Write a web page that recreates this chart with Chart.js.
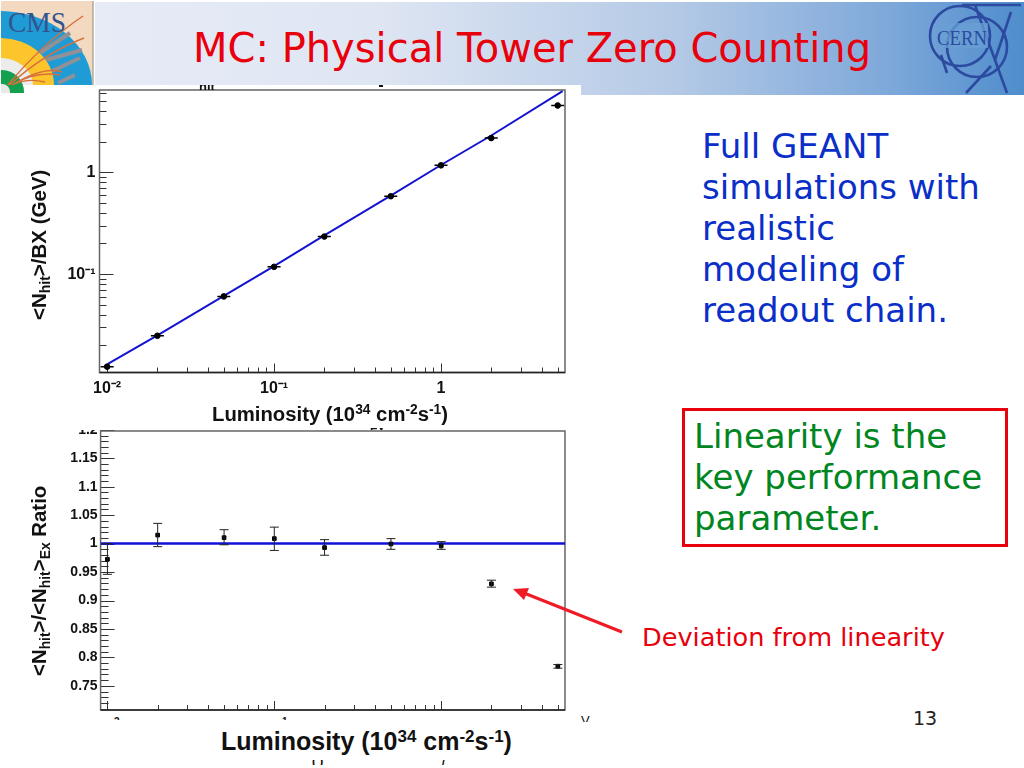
<!DOCTYPE html>
<html><head><meta charset="utf-8">
<script src="https://cdn.jsdelivr.net/npm/chart.js@4"></script>
<style>
html,body{margin:0;padding:0;background:#fff;width:1024px;height:768px;overflow:hidden}
.abs{position:absolute;white-space:nowrap}
#band{position:absolute;left:95px;top:2px;width:929px;height:93px;background:linear-gradient(90deg,#e6ebf6 0%,#dfe6f3 30%,#b5cae6 62%,#7fa9da 85%,#4f8dcc 100%)}
#white{position:absolute;left:95px;top:85px;width:486px;height:12px;background:#fff}
canvas{position:absolute}
.t{font-family:"DejaVu Sans";}
.rb{font-family:"Liberation Sans";font-weight:bold;color:#111}
.rb sub{font-size:.68em;vertical-align:-.28em;line-height:0}
.rb sup{font-size:.68em;vertical-align:.48em;line-height:0}
.rot{transform-origin:0 0;transform:rotate(-90deg)}
.frag{position:absolute;overflow:hidden;font-family:"Liberation Sans";font-weight:bold;color:#111}
</style></head><body>
<div id="band"></div>
<svg class="abs" style="left:0;top:0" width="95" height="95" viewBox="0 0 95 95">
<clipPath id="c1"><rect x="1" y="1" width="92" height="84"/></clipPath>
<clipPath id="c2"><rect x="1" y="1" width="24" height="92"/></clipPath>
<rect x="1" y="1" width="92" height="84" fill="#f3d9c0"/>
<g clip-path="url(#c1)">
<ellipse cx="0" cy="85" rx="92" ry="74" fill="#1f9bd6"/>
<ellipse cx="0" cy="85" rx="54" ry="47" fill="#fdc52c"/>
<ellipse cx="0" cy="85" rx="33" ry="27" fill="#ececec"/>
<g stroke="#8f9196" stroke-width="4" fill="none">
<path d="M40 53L70 33M46 60L82 50M52 71L80 58M58 83L75 75"/></g>
</g>
<g clip-path="url(#c2)"><circle cx="2" cy="92" r="22" fill="#13a04f"/><circle cx="2" cy="92" r="8" fill="#e9e9e9"/></g>
<g clip-path="url(#c1)"><g stroke="#d8703c" stroke-width="1.4" fill="none">
<path d="M2 92Q40 45 83 16M2 92Q40 55 84 38M2 92Q40 65 62 72M2 92Q30 70 60 75M2 92Q20 76 45 82"/></g>
<text x="8" y="32" font-family="Liberation Serif" font-size="29" fill="#33548f" textLength="58" lengthAdjust="spacingAndGlyphs">CMS</text>
</g>
<line x1="93" y1="1" x2="93" y2="85" stroke="#8a8a80" stroke-width="1"/>
</svg>
<svg class="abs" style="left:920px;top:0" width="104" height="95" viewBox="0 0 104 95">
<g fill="none" stroke="#2b4aa0" stroke-width="2.6">
<circle cx="40" cy="36" r="30"/>
<circle cx="57" cy="47" r="30"/>
<path d="M42 5H101"/><path d="M55 5L87 93M91 12L75 60M71 66L46 93M21 55L27 73"/>
</g>
<rect x="16" y="23" width="52" height="25" fill="#6a9fd4" opacity=".75"/>
<text x="17" y="45" font-family="Liberation Serif" font-size="21" fill="#2b4aa0" textLength="50" lengthAdjust="spacingAndGlyphs">CERN</text>
</svg>
<div class="abs t" id="title" style="left:193px;top:24px;font-size:40px;line-height:48px;color:#e8000c">MC: Physical Tower Zero Counting</div>

<div id="white"></div>
<canvas id="top" style="left:50px;top:85px;width:531px;height:345px"></canvas>
<canvas id="bot" style="left:50px;top:426px;width:531px;height:290px;clip-path:inset(4px 0 0 0)"></canvas>

<div class="frag" style="left:199px;top:85px;width:20px;height:5px;font-size:13px;line-height:3px">hit</div>
<div class="frag" style="left:379px;top:85px;height:2px;width:4px;background:#111"></div>
<div class="frag" style="left:370px;top:428px;width:16px;height:2px;font-size:12px;line-height:2px">Ex</div>
<div class="frag" style="left:114px;top:716px;width:8px;height:4px;font-size:10px;line-height:12px">2</div>
<div class="frag" style="left:282px;top:716px;width:8px;height:4px;font-size:10px;line-height:12px">1</div>
<div class="frag" style="left:581px;top:714px;width:12px;height:8px;font-size:13px;line-height:14px;font-weight:normal">V</div>
<div class="frag" style="left:312px;top:760px;width:20px;height:5px;font-size:12px;line-height:2px">( )</div>
<div class="frag" style="left:442px;top:760px;width:8px;height:5px;font-size:12px;line-height:2px">/</div>

<div class="abs rb rot" style="left:28px;top:320px;font-size:20.5px;line-height:22px">&lt;N<sub>hit</sub>&gt;/BX (GeV)</div>
<div class="abs rb" style="left:212px;top:402px;font-size:20.3px;line-height:24px">Luminosity (10<sup>34</sup> cm<sup>-2</sup>s<sup>-1</sup>)</div>
<div class="abs rb rot" style="left:27px;top:676px;font-size:20.4px;line-height:24px">&lt;N<sub>hit</sub>&gt;/&lt;N<sub>hit</sub>&gt;<sub>Ex</sub> Ratio</div>
<div class="abs rb" style="left:221px;top:726px;font-size:25px;line-height:30px">Luminosity (10<sup>34</sup> cm<sup>-2</sup>s<sup>-1</sup>)</div>

<div class="abs t" style="left:702px;top:126px;font-size:34px;line-height:41px;color:#0a2fc8">Full GEANT<br>simulations with<br>realistic<br>modeling of<br>readout chain.</div>
<div class="abs" style="left:682px;top:408px;width:320px;height:133px;border:3px solid #e8000c"></div>
<div class="abs t" style="left:694px;top:416px;font-size:34px;line-height:41px;color:#00861e">Linearity is the<br>key performance<br>parameter.</div>
<div class="abs t" style="left:642px;top:623px;font-size:25.6px;line-height:28px;color:#e8000c">Deviation from linearity</div>
<div class="abs t" style="left:913px;top:706px;font-size:19px;line-height:24px;color:#222">13</div>
<svg class="abs" style="left:500px;top:575px" width="140" height="70">
<line x1="122" y1="57" x2="24" y2="18" stroke="#ee1c25" stroke-width="3"/>
<polygon points="13,14 29,13 24,25" fill="#ee1c25"/>
</svg>

<script>
// ---- top panel ----
const lumi = [0.01,0.02,0.05,0.1,0.2,0.5,1,2,5];
const nhit = [0.01233,0.0248,0.0604,0.118,0.234,0.582,1.171,2.17,4.54];
const nhitHi = [0.0129,0.0257,0.0619,0.121,0.240,0.597,1.20,2.22,4.64];
const nhitLo = [0.0117,0.0240,0.0589,0.115,0.228,0.567,1.14,2.12,4.44];
const fitX = [0.0101,0.02,0.05,0.1,0.2,0.5,1,2,5.35];
const fitY = [0.0131,0.0250,0.0612,0.120,0.240,0.59,1.18,2.3,6.27];
const xMajor = [0.01,0.1,1];
const xMinor = [0.02,0.03,0.04,0.05,0.06,0.07,0.08,0.09,0.2,0.3,0.4,0.5,0.6,0.7,0.8,0.9,2,3,4,5];
const yMajorTop = [0.1,1];
const yMinorTop = [0.02,0.03,0.04,0.05,0.06,0.07,0.08,0.09,0.2,0.3,0.4,0.5,0.6,0.7,0.8,0.9,2,3,4,5,6];
// ---- bottom panel ----
const ratio = [0.9725,1.015,1.0105,1.0088,0.993,0.9994,0.996,0.9293,0.7845];
const ratioHi = [1.0,1.0356,1.0245,1.029,1.007,1.0088,1.0035,0.9357,0.7874];
const ratioLo = [0.946,0.9947,0.998,0.988,0.9796,0.990,0.990,0.9235,0.781];
const unityX = [0.0091,5.52];
const unityY = [1,1];
const yMajorBot = [0.75,0.8,0.85,0.9,0.95,1,1.05,1.1,1.15,1.2];
const yMinorBot = [0.71,0.72,0.73,0.74,0.76,0.77,0.78,0.79,0.81,0.82,0.83,0.84,0.86,0.87,0.88,0.89,0.91,0.92,0.93,0.94,0.96,0.97,0.98,0.99,1.01,1.02,1.03,1.04,1.06,1.07,1.08,1.09,1.11,1.12,1.13,1.14,1.16,1.17,1.18,1.19];

const FONT = '"Liberation Sans"';
const zip = (a,b)=>a.map((v,i)=>({x:v,y:b[i]}));
const xLabel = v => v===1 ? '1' : '10'+(v===0.1?'⁻¹':'⁻²');

function rootPlugin(o){return {id:'root',
 beforeDatasetsDraw(c){
  const g=c.ctx,a=c.chartArea,x=c.scales.x,y=c.scales.y;
  g.save();g.strokeStyle='#333';g.lineWidth=1;
  const tx=(v,l)=>{const p=Math.round(x.getPixelForValue(v))+.5;g.beginPath();g.moveTo(p,a.bottom);g.lineTo(p,a.bottom-l);g.stroke();};
  const ty=(v,l)=>{const p=Math.round(y.getPixelForValue(v))+.5;g.beginPath();g.moveTo(a.left,p);g.lineTo(a.left+l,p);g.stroke();};
  xMajor.forEach(v=>tx(v,9));xMinor.forEach(v=>tx(v,5));
  o.yMajor.forEach(v=>ty(v,14));o.yMinor.forEach(v=>ty(v,o.minorLen));
  g.strokeStyle=o.frame;g.lineWidth=1.5;
  g.strokeRect(a.left,a.top,a.right-a.left,a.bottom-a.top);
  g.strokeStyle='#222';g.beginPath();g.moveTo(a.left,a.bottom);g.lineTo(a.right,a.bottom);g.stroke();
  g.restore();
 },
 afterDatasetsDraw(c){
  const g=c.ctx,x=c.scales.x,y=c.scales.y;
  g.save();g.strokeStyle=o.errColor;g.lineWidth=o.errWidth;
  lumi.forEach((v,i)=>{
   const p=x.getPixelForValue(v),hi=y.getPixelForValue(o.hi[i]),lo=y.getPixelForValue(o.lo[i]);
   g.beginPath();g.moveTo(p,hi);g.lineTo(p,lo);
   if(o.cap){g.moveTo(p-o.cap,hi);g.lineTo(p+o.cap,hi);g.moveTo(p-o.cap,lo);g.lineTo(p+o.cap,lo);}
   if(o.xbar){const q=y.getPixelForValue(o.val[i]);g.moveTo(p-o.xbar,q);g.lineTo(p+o.xbar,q);}
   g.stroke();
  });
  g.restore();
 }};}

const common = (pad)=>({responsive:false,animation:false,devicePixelRatio:1,
  layout:{padding:pad},
  plugins:{legend:{display:false},title:{display:false},tooltip:{enabled:false}}});
const fitY_ = w => s=>{s.width=w;s.paddingTop=0;s.paddingBottom=0;};
const fitX_ = h => s=>{s.height=h;s.paddingLeft=0;s.paddingRight=0;};

function mk(id,w,h){const el=document.getElementById(id);el.width=w;el.height=h;return el;}

new Chart(mk('top',531,345),{
 type:'scatter',
 data:{datasets:[
  {type:'line',data:zip(fitX,fitY),borderColor:'#1414d0',borderWidth:2,pointRadius:0,tension:0,order:2},
  {data:zip(lumi,nhit),backgroundColor:'#000',borderColor:'#000',pointRadius:2.8,showLine:false,order:1}
 ]},
 options:{...common({left:0,right:16,top:4.5,bottom:0}),
  scales:{
   x:{type:'logarithmic',min:0.0090,max:5.53,grid:{display:false,drawTicks:false},border:{display:false},
      afterBuildTicks:s=>{s.ticks=xMajor.map(v=>({value:v,major:true}))},
      afterFit:fitX_(57.5),
      ticks:{autoSkip:false,maxRotation:0,padding:6,color:'#111',font:{family:FONT,weight:'bold',size:16},callback:v=>xLabel(v)}},
   y:{type:'logarithmic',min:0.0108,max:6.44,grid:{display:false,drawTicks:false},border:{display:false},
      afterBuildTicks:s=>{s.ticks=yMajorTop.map(v=>({value:v,major:true}))},
      afterFit:fitY_(49.5),
      ticks:{autoSkip:false,padding:4,color:'#111',font:{family:FONT,weight:'bold',size:16},callback:v=>v===1?'1':'10⁻¹'}}
  }},
 plugins:[rootPlugin({yMajor:yMajorTop,yMinor:yMinorTop,minorLen:7,hi:nhitHi,lo:nhitLo,val:nhit,cap:0,errColor:'#000',errWidth:1.5,xbar:6.5,frame:'#666'})]
});

new Chart(mk('bot',531,290),{
 type:'scatter',
 data:{datasets:[
  {type:'line',data:zip(unityX,unityY),borderColor:'#1010d8',borderWidth:2.5,pointRadius:0,tension:0,order:2},
  {data:zip(lumi,ratio),backgroundColor:'#000',borderColor:'#000',pointRadius:2.6,pointStyle:'rect',showLine:false,order:1}
 ]},
 options:{...common({left:0,right:16,top:4.5,bottom:0}),
  scales:{
   x:{type:'logarithmic',min:0.0091,max:5.52,grid:{display:false,drawTicks:false},border:{display:false},
      afterBuildTicks:s=>{s.ticks=xMajor.map(v=>({value:v,major:true}))},
      afterFit:fitX_(6),
      ticks:{display:false}},
   y:{type:'linear',min:0.7075,max:1.198,grid:{display:false,drawTicks:false},border:{display:false},
      afterBuildTicks:s=>{s.ticks=yMajorBot.map(v=>({value:v,major:true}))},
      afterFit:fitY_(50.6),
      ticks:{autoSkip:false,padding:3,color:'#111',font:{family:FONT,weight:'bold',size:14},callback:v=>String(v)}}
  }},
 plugins:[rootPlugin({yMajor:yMajorBot,yMinor:yMinorBot,minorLen:8,hi:ratioHi,lo:ratioLo,val:ratio,cap:4.5,errColor:'#222',errWidth:1,xbar:0,frame:'#666'})]
});
</script>
</body></html>
